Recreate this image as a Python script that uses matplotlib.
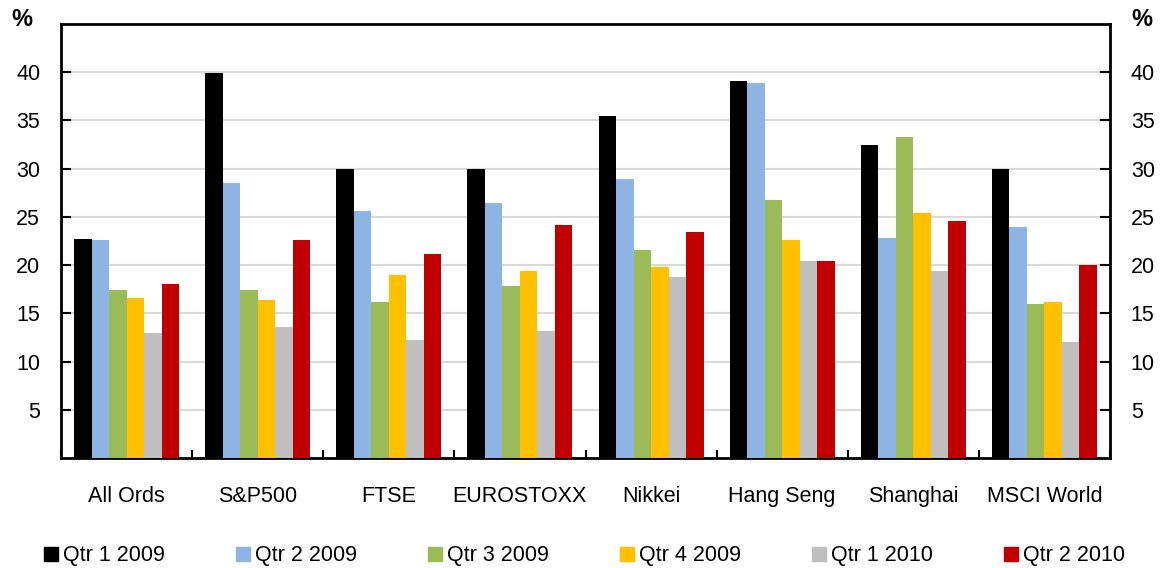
import numpy as np
import matplotlib
matplotlib.use("Agg")
import matplotlib.pyplot as plt
from matplotlib.lines import Line2D

plt.rcParams['font.family'] = ['Liberation Sans', 'DejaVu Sans']

categories = ["All Ords", "S&P500", "FTSE", "EUROSTOXX", "Nikkei", "Hang Seng", "Shanghai", "MSCI World"]
series_names = ["Qtr 1 2009", "Qtr 2 2009", "Qtr 3 2009", "Qtr 4 2009", "Qtr 1 2010", "Qtr 2 2010"]
q1_2009 = [22.7, 39.9, 30.0, 30.0, 35.5, 39.1, 32.5, 30.0]
q2_2009 = [22.6, 28.5, 25.6, 26.4, 28.9, 38.9, 22.8, 24.0]
q3_2009 = [17.4, 17.4, 16.2, 17.8, 21.6, 26.7, 33.3, 16.0]
q4_2009 = [16.6, 16.4, 19.0, 19.4, 19.8, 22.6, 25.4, 16.2]
q1_2010 = [13.0, 13.6, 12.2, 13.2, 18.8, 20.4, 19.4, 12.0]
q2_2010 = [18.0, 22.6, 21.2, 24.2, 23.4, 20.4, 24.6, 20.0]
yticks = [5, 10, 15, 20, 25, 30, 35, 40]

series = [q1_2009, q2_2009, q3_2009, q4_2009, q1_2010, q2_2010]
colors = ["#000000", "#8EB4E3", "#9BBB59", "#FFC000", "#BFBFBF", "#C00000"]

fig = plt.figure(figsize=(11.67, 5.68), dpi=100)
ax = fig.add_axes([61/1167, 110/568, 1049/1167, 434/568])

n = len(series)
x = np.arange(len(categories))
w = 0.8 / n
for i, (vals, c, name) in enumerate(zip(series, colors, series_names)):
    ax.bar(x - 0.4 + w * (i + 0.5), vals, width=w, color=c, label=name, zorder=3)

ax.set_xlim(-0.5, len(categories) - 0.5)
ax.set_ylim(0, 45)
ax.set_yticks(yticks)
ax.yaxis.grid(True, color="#D9D9D9", linewidth=1.5, zorder=0)
ax.tick_params(axis='y', direction='in', length=7, width=1.5, labelsize=15.5,
               left=True, right=True, labelleft=True, labelright=True, pad=15)
ax.set_xticks(np.arange(len(categories) + 1) - 0.5)
ax.set_xticklabels([])
ax.set_xticks(x, minor=True)
ax.set_xticklabels(categories, minor=True, fontsize=15.5)
ax.tick_params(axis='x', which='major', direction='in', length=6, width=1.5)
ax.tick_params(axis='x', which='minor', length=0, pad=20)
for s in ax.spines.values():
    s.set_linewidth(2)
    s.set_color('black')

fig.text(22/1167, 1 - 20/568, "%", fontsize=17, fontweight='bold', ha='center', va='center')
fig.text(1142/1167, 1 - 20/568, "%", fontsize=17, fontweight='bold', ha='center', va='center')

handles = [Line2D([0], [0], marker='s', linestyle='none', markersize=10, color=c) for c in colors]
fig.legend(handles, series_names, loc='center left', ncol=6, frameon=False,
           bbox_to_anchor=(21/1167, 1 - 556/568), fontsize=15.5, handletextpad=0.05,
           columnspacing=3.13, handlelength=1.0)

fig.savefig("out.png", dpi=100)
